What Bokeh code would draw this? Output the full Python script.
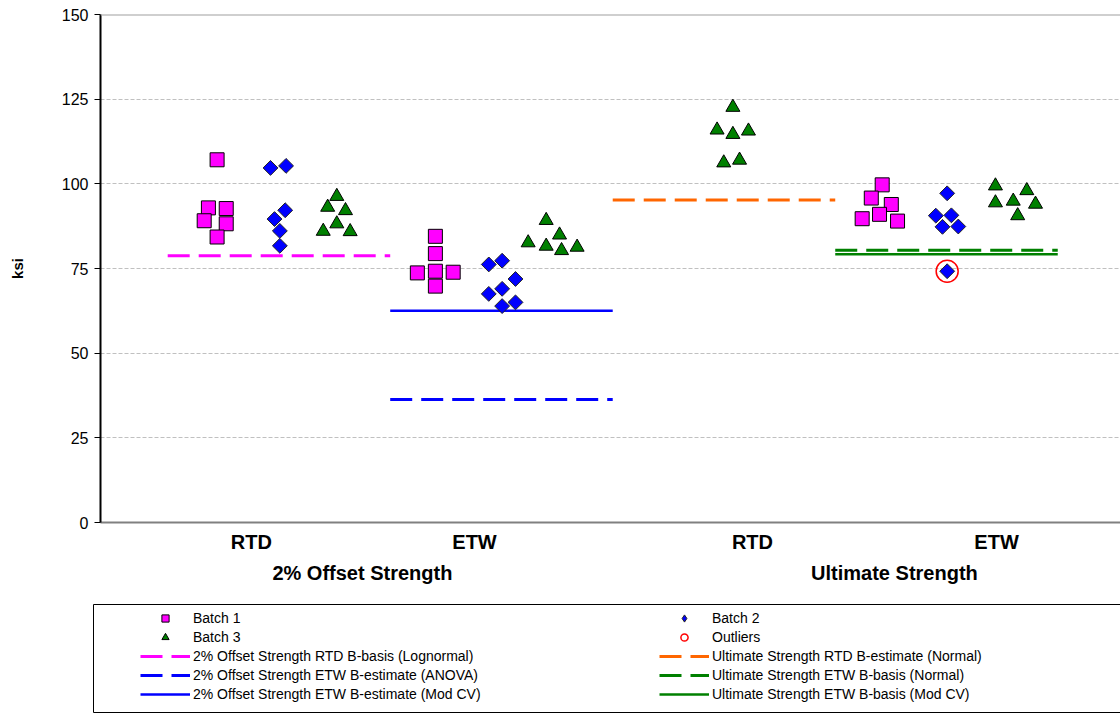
from bokeh.plotting import figure
from bokeh.models import (FixedTicker, Legend, LegendItem, Span, BoxAnnotation, Range1d, LinearAxis)
from bokeh.layouts import column
from bokeh.embed import file_html
from bokeh.resources import INLINE
import numpy as np

FONT = "Liberation Sans"

# ---------------- data ----------------
# x positions: group centre 1 = 2% Offset RTD, 2 = 2% Offset ETW, 3 = Ultimate RTD, 4 = Ultimate ETW
batch1_x = [0.722, 0.683, 0.763, 0.664, 0.763, 0.722,
            1.703, 1.703, 1.622, 1.703, 1.783, 1.703,
            3.711, 3.662, 3.752, 3.699, 3.621, 3.780]
batch1_y = [107.1, 92.9, 92.7, 89.1, 88.2, 84.3,
            84.5, 79.4, 73.7, 74.2, 73.9, 69.8,
            99.7, 95.8, 93.9, 91.0, 89.7, 89.0]

batch2_x = [0.962, 1.032, 1.028, 0.980, 1.004, 1.004,
            1.943, 2.003, 2.063, 1.943, 2.003, 2.003, 2.063,
            4.003, 3.952, 4.022, 3.982, 4.053, 4.003]
batch2_y = [104.7, 105.3, 92.2, 89.6, 86.1, 81.7,
            76.2, 77.3, 71.9, 67.5, 69.0, 63.9, 65.0,
            97.2, 90.6, 90.7, 87.3, 87.4, 74.2]

batch3_x = [1.260, 1.219, 1.299, 1.260, 1.199, 1.320,
            2.201, 2.261, 2.120, 2.201, 2.270, 2.340,
            3.040, 2.969, 3.040, 3.110, 2.999, 3.070,
            4.220, 4.361, 4.220, 4.300, 4.400, 4.320]
batch3_y = [96.3, 93.1, 92.1, 88.2, 86.0, 85.9,
            89.2, 84.9, 82.6, 81.6, 80.3, 81.3,
            122.6, 115.9, 114.6, 115.6, 106.2, 107.0,
            99.4, 98.0, 94.4, 94.9, 94.0, 90.6]

outlier_x = [4.003]
outlier_y = [74.2]

basis_labels = ["2% Offset Strength RTD B-basis (Lognormal)",
                "2% Offset Strength ETW B-estimate (ANOVA)",
                "2% Offset Strength ETW B-estimate (Mod CV)",
                "Ultimate Strength RTD B-estimate (Normal)",
                "Ultimate Strength ETW B-basis (Normal)",
                "Ultimate Strength ETW B-basis (Mod CV)"]
basis_group = [1, 2, 2, 3, 4, 4]
basis_value = [78.8, 36.3, 62.5, 95.2, 80.4, 79.2]
basis_color = ["#FF00FF", "#0000FF", "#0000FF", "#FF6600", "#008000", "#008000"]
basis_dash = ["22 9", "22 9", "solid", "22 9", "22 9", "solid"]

cond_labels = ["RTD", "ETW", "RTD", "ETW"]
cond_label_x = [0.876, 1.879, 3.128, 4.225]
group_labels = ["2% Offset Strength", "Ultimate Strength"]
group_label_x = [1.375, 3.766]

y_ticks = [0, 25, 50, 75, 100, 125, 150]

TOP_H = 596
W = 1120

# ---------------- main figure ----------------
p = figure(width=W, height=TOP_H, output_backend="svg", toolbar_location=None,
           title=None,
           x_range=Range1d(0.198, 4.782), y_range=Range1d(0, 150),
           min_border_left=100, min_border_right=0, min_border_top=14,
           min_border_bottom=TOP_H - 522)
p.outline_line_color = None
p.frame_align = False

# grid
p.xgrid.visible = False
p.ygrid.ticker = FixedTicker(ticks=y_ticks)
p.ygrid.grid_line_color = "#C0C0C0"
p.ygrid.grid_line_dash = "4 2"
p.ygrid.grid_line_width = 1
p.add_layout(Span(location=150, dimension="width", line_color="#A0A0A0", line_width=2))

# y axis
p.yaxis.ticker = FixedTicker(ticks=y_ticks)
p.yaxis.axis_line_color = "black"
p.yaxis.axis_line_width = 2
p.yaxis.major_tick_line_color = "black"
p.yaxis.major_tick_line_width = 1
p.yaxis.major_tick_out = 6
p.yaxis.major_tick_in = 0
p.yaxis.minor_tick_line_color = None
p.yaxis.major_label_text_font = FONT
p.yaxis.major_label_text_font_size = "16px"
p.yaxis.major_label_text_color = "black"
p.yaxis.major_label_standoff = 6
p.yaxis.axis_label = "ksi"
p.yaxis.axis_label_text_font = FONT
p.yaxis.axis_label_text_font_size = "15px"
p.yaxis.axis_label_text_font_style = "bold"
p.yaxis.axis_label_text_color = "black"
p.yaxis.axis_label_standoff = 33

# x axis: condition labels
p.xaxis.ticker = FixedTicker(ticks=cond_label_x)
p.xaxis.major_label_overrides = {x: t for x, t in zip(cond_label_x, cond_labels)}
p.xaxis.axis_line_color = "#808080"
p.xaxis.axis_line_width = 2
p.xaxis.major_tick_line_color = None
p.xaxis.minor_tick_line_color = None
p.xaxis.major_tick_out = 0
p.xaxis.major_tick_in = 0
p.xaxis.major_label_standoff = 8
p.xaxis.major_label_text_font = FONT
p.xaxis.major_label_text_font_size = "20px"
p.xaxis.major_label_text_font_style = "bold"
p.xaxis.major_label_text_color = "black"

# second x axis: property group labels
gaxis = LinearAxis(ticker=FixedTicker(ticks=group_label_x),
                   major_label_overrides={x: t for x, t in zip(group_label_x, group_labels)},
                   axis_line_color=None, major_tick_line_color=None, minor_tick_line_color=None,
                   major_tick_out=0, major_tick_in=0, major_label_standoff=6,
                   major_label_text_font=FONT, major_label_text_font_size="20px",
                   major_label_text_font_style="bold", major_label_text_color="black")
p.add_layout(gaxis, "below")

# basis lines
line_renderers = []
for g, v, c, d in zip(basis_group, basis_value, basis_color, basis_dash):
    r = p.line([g - 0.5, g + 0.5], [v, v], line_color=c,
               line_width=3 if d != "solid" else 2.5, line_dash=d)
    line_renderers.append(r)

# points
marker_styles = [
    dict(marker="square", size=14, fill_color="#FF00FF", line_color="black", line_width=1),
    dict(marker="square", angle=np.pi / 4, size=10.5, fill_color="#0000FF",
         line_color="#222222", line_width=1),
    dict(marker="triangle", size=14, fill_color="#008000", line_color="black", line_width=1),
    dict(marker="circle", size=22, fill_color=None, line_color="#FF0000", line_width=1.5),
]
r1 = p.scatter(batch1_x, batch1_y, **marker_styles[0])
r2 = p.scatter(batch2_x, batch2_y, **marker_styles[1])
r3 = p.scatter(batch3_x, batch3_y, **marker_styles[2])
r4 = p.scatter(outlier_x, outlier_y, **marker_styles[3])

# ---------------- legend panel ----------------
LEG_H = 713 - TOP_H
q = figure(width=W, height=LEG_H, output_backend="svg", toolbar_location=None,
           title=None, x_axis_type=None, y_axis_type=None,
           x_range=Range1d(0, W), y_range=Range1d(LEG_H, 0),
           min_border_left=0, min_border_right=0, min_border_top=0, min_border_bottom=0)
q.outline_line_color = None
q.frame_align = False
q.xgrid.visible = False
q.ygrid.visible = False

# legend sample renderers (hidden; they only provide legend glyph styles)
legend_marker_styles = [dict(st) for st in marker_styles]
legend_marker_styles[1] = dict(marker="diamond", size=14, fill_color="#0000FF",
                               line_color="#222222", line_width=1)
l_lines = []
for c, d in zip(basis_color, basis_dash):
    l_lines.append(q.line([0, 1], [0, 0], line_color=c,
                          line_width=3 if d != "solid" else 2.5, line_dash=d, visible=False))
l_pts = [q.scatter([0], [0], visible=False, **st) for st in legend_marker_styles]

q.add_layout(BoxAnnotation(left=93, right=W + 50, top=8, bottom=116,
                           fill_alpha=0, line_color="black", line_alpha=1, line_width=1))

items = [
    LegendItem(label="Batch 1", renderers=[l_pts[0]]),
    LegendItem(label="Batch 3", renderers=[l_pts[2]]),
    LegendItem(label=basis_labels[0], renderers=[l_lines[0]]),
    LegendItem(label=basis_labels[1], renderers=[l_lines[1]]),
    LegendItem(label=basis_labels[2], renderers=[l_lines[2]]),
    LegendItem(label="Batch 2", renderers=[l_pts[1]]),
    LegendItem(label="Outliers", renderers=[l_pts[3]]),
    LegendItem(label=basis_labels[3], renderers=[l_lines[3]]),
    LegendItem(label=basis_labels[4], renderers=[l_lines[4]]),
    LegendItem(label=basis_labels[5], renderers=[l_lines[5]]),
]
legend = Legend(items=items, location=(133, 3), ncols=2, orientation="vertical",
                label_text_font=FONT, label_text_font_size="14px", label_text_color="black",
                glyph_width=50, glyph_height=18, label_height=18, label_width=465,
                label_standoff=3, spacing=1, padding=7, margin=0,
                border_line_alpha=0, background_fill_alpha=0,
                inactive_fill_alpha=0)
q.add_layout(legend)

layout = column(p, q, spacing=0)
open("out.html", "w").write(file_html(layout, INLINE))
